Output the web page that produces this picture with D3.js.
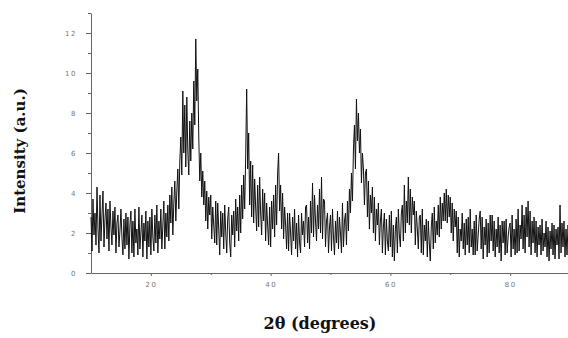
<!DOCTYPE html>
<html>
<head>
<meta charset="utf-8">
<script src="https://cdn.jsdelivr.net/npm/d3@7"></script>
<style>
  body { margin: 0; background: #fff; }
  .tick text { fill: #777; font-family: "DejaVu Sans", sans-serif; font-size: 7px; letter-spacing: 1.5px; }
  .axis path, .axis line { stroke: #666; }
  .title { font-family: "DejaVu Serif", serif; font-weight: bold; fill: #111; }
</style>
</head>
<body>
<div id="chart"></div>
<script>
// 2theta sampling grid (degrees)
const angleStart = 10;
const samplesPerDegree = 6;

// intensity, 6 samples per degree
const intensity = [
  2.8, 1.1, 3.7, 1.9, 3.0, 1.4,  // 10
  4.3, 2.2, 1.0, 3.9, 1.6, 2.9,  // 11
  4.1, 1.3, 2.7, 3.5, 1.7, 3.2,  // 12
  1.1, 3.6, 2.3, 1.4, 3.1, 1.9,  // 13
  3.3, 1.0, 2.5, 2.9, 1.3, 2.1,  // 14
  3.2, 1.8, 0.9, 2.7, 1.2, 3.0,  // 15
  1.4, 2.8, 0.7, 2.4, 3.1, 1.0,  // 16
  2.6, 0.8, 3.2, 1.5, 2.2, 0.9,  // 17
  3.3, 1.2, 2.0, 2.9, 0.8, 2.5,  // 18
  1.6, 3.1, 0.7, 2.6, 1.3, 2.8,  // 19
  0.9, 3.2, 1.8, 1.1, 2.9, 1.5,  // 20
  3.4, 1.0, 2.6, 1.7, 3.2, 1.2,  // 21
  2.4, 3.6, 1.2, 3.0, 1.8, 3.4,  // 22
  1.6, 3.9, 2.5, 4.3, 1.9, 3.5,  // 23
  4.6, 2.6, 4.1, 5.2, 3.2, 5.6,  // 24
  6.8, 4.9, 9.1, 6.0, 8.4, 5.3,  // 25
  8.8, 6.1, 4.9, 7.6, 5.6, 8.0,  // 26
  6.2, 9.6, 7.4, 11.7, 8.6, 10.2, // 27
  6.8, 4.6, 6.0, 3.8, 5.1, 3.4,  // 28
  4.6, 2.6, 4.1, 2.2, 3.8, 2.9,  // 29
  3.9, 1.7, 3.3, 2.4, 1.5, 3.6,  // 30
  1.4, 3.5, 2.2, 0.9, 3.1, 1.8,  // 31
  3.0, 1.2, 3.4, 2.0, 1.0, 2.7,  // 32
  3.3, 1.5, 0.8, 2.9, 1.9, 3.1,  // 33
  1.3, 3.7, 2.1, 3.3, 1.6, 3.9,  // 34
  2.0, 4.4, 2.7, 4.9, 3.2, 5.8,  // 35
  9.2, 5.2, 7.0, 3.4, 5.6, 2.8,  // 36
  5.4, 2.5, 4.7, 3.3, 2.1, 4.4,  // 37
  2.3, 4.8, 3.0, 1.9, 4.2, 2.6,  // 38
  4.0, 1.6, 3.5, 2.4, 1.4, 3.3,  // 39
  1.3, 3.6, 2.2, 3.9, 1.8, 4.4,  // 40
  2.4, 5.0, 6.0, 3.1, 4.4, 2.2,  // 41
  4.0, 1.7, 3.3, 2.4, 1.2, 3.0,  // 42
  1.1, 3.0, 2.0, 0.9, 2.8, 1.6,  // 43
  3.2, 1.2, 2.5, 0.8, 2.9, 1.5,  // 44
  1.0, 3.0, 1.9, 2.6, 1.3, 3.3,  // 45
  3.4, 1.5, 2.8, 1.2, 3.6, 2.0,  // 46
  4.5, 1.8, 3.9, 2.6, 1.6, 3.4,  // 47
  2.2, 4.2, 2.0, 4.8, 1.7, 3.7,  // 48
  3.6, 1.3, 2.6, 3.0, 1.0, 2.3,  // 49
  2.9, 1.1, 3.2, 1.8, 0.9, 2.6,  // 50
  1.5, 3.1, 1.2, 2.8, 2.0, 1.0,  // 51
  3.5, 1.3, 2.6, 3.0, 1.4, 3.6,  // 52
  2.1, 4.2, 3.0, 5.0, 3.6, 6.2,  // 53
  7.4, 5.2, 8.7, 6.6, 8.0, 6.0,  // 54
  7.2, 4.5, 6.0, 5.2, 3.4, 5.0,  // 55
  5.2, 2.8, 4.6, 2.2, 3.9, 3.0,  // 56
  4.3, 2.0, 3.8, 1.6, 3.2, 2.4,  // 57
  3.5, 1.4, 2.6, 3.2, 1.0, 2.3,  // 58
  3.0, 0.9, 2.7, 1.6, 1.1, 2.9,  // 59
  1.3, 3.1, 0.8, 2.4, 0.6, 2.2,  // 60
  2.8, 1.0, 3.2, 1.9, 1.3, 3.0,  // 61
  3.4, 1.6, 4.4, 2.0, 3.6, 2.5,  // 62
  4.8, 2.4, 4.2, 2.0, 3.8, 2.9,  // 63
  3.6, 1.4, 3.1, 2.2, 1.2, 2.8,  // 64
  2.9, 1.0, 3.2, 0.9, 2.4, 1.6,  // 65
  2.7, 0.8, 2.6, 1.5, 0.6, 2.3,  // 66
  3.0, 1.2, 3.3, 1.5, 2.6, 1.9,  // 67
  3.4, 1.8, 3.8, 2.2, 3.5, 2.6,  // 68
  4.0, 2.6, 4.2, 2.5, 3.9, 2.8,  // 69
  3.8, 2.0, 3.5, 1.6, 3.2, 2.3,  // 70
  3.1, 1.0, 2.8, 0.8, 2.2, 1.6,  // 71
  3.0, 1.2, 2.5, 0.9, 2.7, 1.4,  // 72
  2.8, 1.0, 3.2, 1.3, 2.2, 0.9,  // 73
  2.6, 0.9, 2.9, 1.1, 1.9, 2.7,  // 74
  3.1, 1.2, 2.8, 0.7, 2.3, 1.4,  // 75
  2.7, 0.8, 2.5, 1.0, 2.9, 1.6,  // 76
  2.9, 1.1, 2.6, 0.8, 2.2, 1.3,  // 77
  2.8, 1.0, 2.4, 0.6, 2.6, 1.5,  // 78
  2.6, 0.9, 2.7, 1.0, 1.8, 2.3,  // 79
  2.5, 0.8, 2.9, 1.2, 2.2, 0.9,  // 80
  2.7, 1.0, 3.2, 1.1, 2.4, 1.7,  // 81
  3.4, 1.2, 2.9, 1.0, 3.3, 1.8,  // 82
  3.6, 1.3, 3.1, 0.9, 2.6, 1.5,  // 83
  2.8, 1.0, 2.6, 0.8, 2.3, 1.4,  // 84
  2.4, 0.9, 2.7, 1.1, 2.0, 1.3,  // 85
  2.6, 0.8, 2.3, 0.6, 2.1, 1.2,  // 86
  2.5, 0.9, 2.4, 0.7, 2.2, 1.4,  // 87
  2.3, 0.7, 3.4, 1.0, 2.5, 1.3,  // 88
  2.6, 0.8, 2.2, 0.9, 2.4, 1.5,  // 89
  2.4                            // 90
];

const xTicks = [20, 40, 60, 80];
const xMinor = [30, 50, 70, 90];
const yTicks = [0, 2, 4, 6, 8, 10, 12];
const yMinor = [1, 3, 5, 7, 9, 11, 13];

const width = 568, height = 338;
const margin = { top: 13, right: -2, bottom: 65, left: 91 };

const svg = d3.select('#chart').append('svg')
  .attr('width', width)
  .attr('height', height);

const x = d3.scaleLinear()
  .domain([10, 90])
  .range([margin.left, width - margin.right]);

const y = d3.scaleLinear()
  .domain([0, 13])
  .range([height - margin.bottom, margin.top]);

const data = intensity.map((v, i) => [angleStart + i / samplesPerDegree, v]);

// minor ticks first
svg.append('g')
  .attr('class', 'axis')
  .attr('transform', 'translate(0,' + y(0) + ')')
  .call(d3.axisBottom(x).tickValues(xMinor).tickSize(2).tickFormat(''))
  .select('.domain').remove();

svg.append('g')
  .attr('class', 'axis')
  .attr('transform', 'translate(' + margin.left + ',0)')
  .call(d3.axisLeft(y).tickValues(yMinor).tickSize(3).tickFormat(''))
  .select('.domain').remove();

// main axes
svg.append('g')
  .attr('class', 'axis')
  .attr('transform', 'translate(0,' + y(0) + ')')
  .call(d3.axisBottom(x).tickValues(xTicks).tickSize(3).tickSizeOuter(0).tickPadding(6));

svg.append('g')
  .attr('class', 'axis')
  .attr('transform', 'translate(' + margin.left + ',0)')
  .call(d3.axisLeft(y).tickValues(yTicks).tickSize(5).tickSizeOuter(0).tickPadding(9));

// pattern
const line = d3.line()
  .x(d => x(d[0]))
  .y(d => y(d[1]));

svg.append('path')
  .datum(data)
  .attr('fill', 'none')
  .attr('stroke', '#111')
  .attr('stroke-width', 1)
  .attr('stroke-linejoin', 'round')
  .attr('d', line);

// axis titles
svg.append('text')
  .attr('class', 'title')
  .attr('transform', 'translate(25,151) rotate(-90)')
  .attr('text-anchor', 'middle')
  .style('font-size', '15px')
  .text('Intensity (a.u.)');

svg.append('text')
  .attr('class', 'title')
  .attr('x', 320)
  .attr('y', 329)
  .attr('text-anchor', 'middle')
  .style('font-size', '16px')
  .text('2θ (degrees)');
</script>
</body>
</html>
